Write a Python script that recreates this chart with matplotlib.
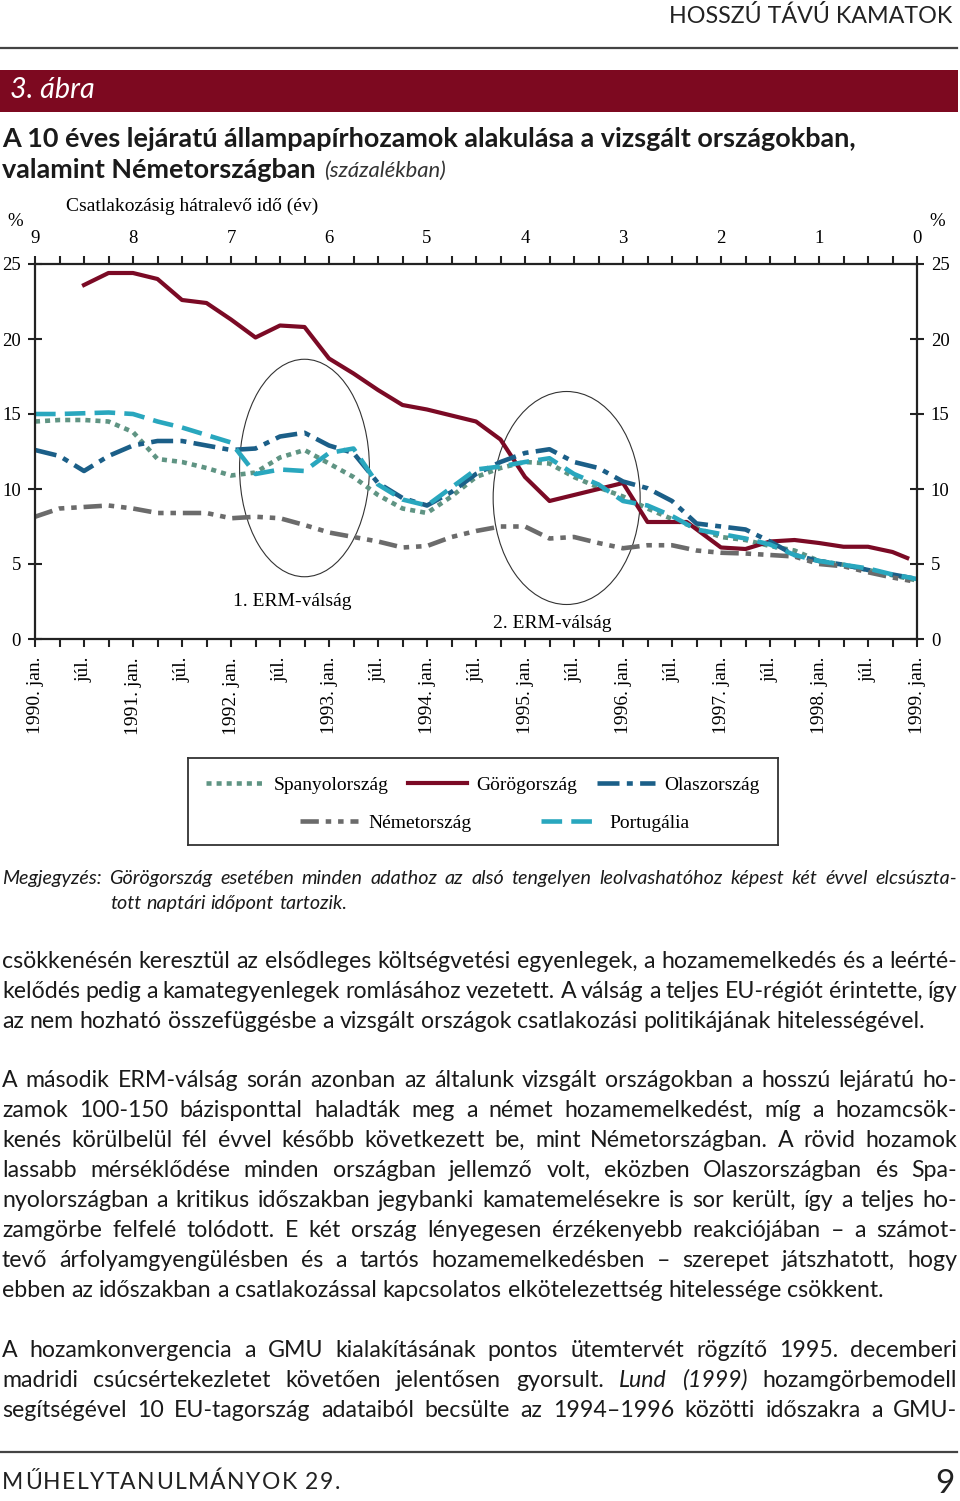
import matplotlib
matplotlib.use("Agg")
from matplotlib import pyplot as plt
from matplotlib.lines import Line2D
from matplotlib.patches import Ellipse, Rectangle

W, H = 960, 1501
SANS = "Lato"
SERIF = "Liberation Serif"
plt.rcParams["font.family"] = [SERIF, "DejaVu Serif"]

# negyedéves adatok, 0 = 1990. jan., 36 = 1999. jan.
quarters = list(range(37))
spain = [14.5, 14.6, 14.6, 14.5, 13.8, 12.0, 11.8, 11.4, 10.9, 11.1, 12.1, 12.6, 11.7,
         10.8, 9.6, 8.7, 8.4, 9.5, 10.8, 11.4, 11.8, 11.7, 10.8, 10.1, 9.5, 8.7, 8.0,
         7.4, 6.8, 6.6, 6.2, 5.9, 5.2, 4.95, 4.6, 4.25, 3.9]
portugal = [15.0, 15.0, 15.05, 15.1, 15.0, 14.5, 14.1, 13.6, 13.1, 11.0, 11.3, 11.2, 12.4,
            12.7, 10.3, 9.3, 8.9, 10.1, 11.3, 11.5, 11.8, 12.05, 11.0, 10.3, 9.2, 8.9, 8.2,
            7.3, 7.0, 6.7, 6.3, 5.6, 5.2, 4.95, 4.7, 4.3, 4.0]
italy = [12.6, 12.2, 11.2, 12.2, 12.9, 13.2, 13.2, 12.9, 12.6, 12.7, 13.5, 13.75, 12.9,
         12.4, 10.4, 9.4, 8.9, 9.8, 11.0, 11.8, 12.4, 12.65, 11.8, 11.4, 10.5, 10.05, 9.2,
         7.7, 7.5, 7.3, 6.5, 5.6, 5.2, 4.95, 4.6, 4.3, 4.0]
germany = [8.15, 8.7, 8.8, 8.9, 8.7, 8.4, 8.4, 8.4, 8.05, 8.15, 8.05, 7.6, 7.1, 6.8, 6.5,
           6.1, 6.2, 6.8, 7.2, 7.5, 7.5, 6.7, 6.8, 6.4, 6.05, 6.25, 6.25, 5.9, 5.75, 5.7,
           5.6, 5.5, 5.0, 4.85, 4.45, 4.1, 3.8]
greece_q = [2, 3, 4, 5, 6, 7, 8, 9, 10, 11, 12, 13, 14, 15, 16, 17, 18, 19, 20, 21, 22,
            23, 24, 25, 26, 26.6, 28, 29, 30, 31, 32, 33, 34, 35, 35.6]
greece = [23.6, 24.4, 24.4, 24.0, 22.6, 22.4, 21.3, 20.1, 20.9, 20.8, 18.7, 17.7, 16.6,
          15.6, 15.3, 14.9, 14.5, 13.3, 10.8, 9.2, 9.6, 10.0, 10.4, 7.8, 7.8, 7.8, 6.1,
          6.0, 6.5, 6.6, 6.4, 6.15, 6.15, 5.8, 5.4]

years_to_join = ["9", "8", "7", "6", "5", "4", "3", "2", "1", "0"]
half_year_labels = []
for yr in range(1990, 1999):
    half_year_labels += [f"{yr}. jan.", "júl."]
half_year_labels.append("1999. jan.")

styles = {
    "Spanyolország": dict(color="#5f9483", ls=(0, (1.1, 1.1))),
    "Görögország": dict(color="#7b0a25", ls="-"),
    "Olaszország": dict(color="#1b5f88", ls=(0, (4.8, 1.6, 1.3, 1.6))),
    "Németország": dict(color="#6b6b6b", ls=(0, (4.0, 1.5, 1.2, 1.5, 1.2, 1.5))),
    "Portugália": dict(color="#29a7be", ls=(0, (4.5, 2.0))),
}
LW = 3.3

fig = plt.figure(figsize=(W / 100, H / 100), dpi=100)
renderer = fig.canvas.get_renderer()


def fy(py):
    return 1 - py / H


def measure(s, size, style="normal", weight="normal", family=SANS):
    t = fig.text(0, 0, s, fontsize=size, fontstyle=style, fontweight=weight, family=family)
    w = t.get_window_extent(renderer).width
    t.remove()
    return w


def fit(s, target, style="normal", weight="normal"):
    # betűméret, amelynél a sor szélessége a mintáéval egyezik
    return 14 * target / measure(s, 14, style, weight)


def put_line(y, segs, x0, x1, size, justify=True):
    words = [(w, st) for s, st in segs for w in s.split()]
    widths = [measure(w, size, st) for w, st in words]
    gap = measure("a a", size) - measure("aa", size)
    if justify and len(words) > 1:
        gap = (x1 - x0 - sum(widths)) / (len(words) - 1)
    x = x0
    for (w, st), wd in zip(words, widths):
        fig.text(x / W, fy(y), w, fontsize=size, fontstyle=st, family=SANS,
                 va="baseline", ha="left", color="#1a1a1a")
        x += wd + gap


def hrule(y):
    fig.add_artist(Line2D([0, 957 / W], [fy(y), fy(y)], transform=fig.transFigure,
                          color="#444444", lw=1.6))


# fejléc
head = "HOSSZÚ TÁVÚ KAMATOK"
fig.text(952 / W, fy(16), head, ha="right", va="center",
         fontsize=fit(head, 284), family=SANS, color="#222222")
hrule(48)
fig.add_artist(Rectangle((0, fy(112)), 958 / W, 42 / H, transform=fig.transFigure,
                         color="#7d0920", lw=0))
fig.text(10 / W, fy(90), "3. ábra", color="white", fontsize=fit("3. ábra", 85, "italic"),
         fontstyle="italic", family=SANS, va="center")
title1 = "A 10 éves lejáratú állampapírhozamok alakulása a vizsgált országokban,"
title2 = "valamint Németországban"
tsize = fit(title1, 863, weight="bold")
fig.text(2 / W, fy(139), title1, fontsize=tsize, fontweight="bold", family=SANS,
         va="center", color="#1a1a1a")
fig.text(2 / W, fy(170), title2, fontsize=tsize, fontweight="bold",
         family=SANS, va="center", color="#1a1a1a")
x_sub = 2 + measure(title2, tsize, weight="bold") + 8
fig.text(x_sub / W, fy(171), "(százalékban)", fontsize=fit("(százalékban)", 122, "italic"),
         fontstyle="italic", family=SANS, va="center", color="#333333")

# diagram
ax = fig.add_axes([35 / W, fy(639), (917 - 35) / W, 375 / H])
ax.set_xlim(0, 36)
ax.set_ylim(0, 25)

ax.plot(quarters, spain, lw=LW, dash_capstyle="butt", **styles["Spanyolország"])
ax.plot(greece_q, greece, lw=3.0, **styles["Görögország"])
ax.plot(quarters, italy, lw=LW, dash_capstyle="butt", **styles["Olaszország"])
ax.plot(quarters, germany, lw=LW, dash_capstyle="butt", **styles["Németország"])
ax.plot(quarters, portugal, lw=LW, dash_capstyle="butt", **styles["Portugália"])

ax.add_patch(Ellipse((11.0, 11.4), 5.3, 14.5, fill=False, lw=0.8, ec="#333333"))
ax.add_patch(Ellipse((21.7, 9.4), 6.0, 14.2, fill=False, lw=0.8, ec="#333333"))
ax.text(10.5, 2.5, "1. ERM-válság", ha="center", va="center", fontsize=14)
ax.text(21.1, 1.05, "2. ERM-válság", ha="center", va="center", fontsize=14)

for s in ax.spines.values():
    s.set_linewidth(1.6)
    s.set_color("#222222")

ax.set_yticks(range(0, 26, 5))
ax.tick_params(axis="y", direction="inout", length=10, width=1.5, left=True, right=True,
               labelleft=True, labelright=True, labelsize=13.5, pad=5, color="#222222")
ax.set_xticks(range(0, 37, 2))
ax.set_xticklabels(half_year_labels, rotation=90, va="top", ha="center")
ax.set_xticks(range(37), minor=True)
ax.tick_params(axis="x", which="both", direction="out", length=6, width=1.5,
               labelsize=14, pad=7, color="#222222")

ax_top = ax.twiny()
ax_top.set_xlim(0, 36)
ax_top.set_xticks(range(0, 37, 4))
ax_top.set_xticklabels(years_to_join)
ax_top.set_xticks(range(37), minor=True)
ax_top.tick_params(axis="x", which="both", direction="out", length=6, width=1.5,
                   labelsize=13.5, pad=6, color="#222222")
for s in ax_top.spines.values():
    s.set_visible(False)

fig.text(15 / W, fy(222), "%", ha="center", va="center", fontsize=13.5)
fig.text(937 / W, fy(222), "%", ha="center", va="center", fontsize=13.5)
fig.text(66 / W, fy(206), "Csatlakozásig hátralevő idő (év)", ha="left", va="center",
         fontsize=14)

# jelmagyarázat
lax = fig.add_axes([188 / W, fy(845), 590 / W, 87 / H])
lax.set_xticks([])
lax.set_yticks([])
for s in lax.spines.values():
    s.set_linewidth(1.3)
    s.set_color("#333333")


def handle(name):
    lw = 3.0 if name == "Görögország" else LW
    return Line2D([], [], lw=lw, dash_capstyle="butt", **styles[name])


row1 = ["Spanyolország", "Görögország", "Olaszország"]
row2 = ["Németország", "Portugália"]
leg1 = lax.legend([handle(n) for n in row1], row1, ncol=3, loc="center",
                  bbox_to_anchor=(0.5, 0.69), frameon=False, fontsize=14,
                  handlelength=3.0, columnspacing=1.0, handletextpad=0.5)
lax.add_artist(leg1)
lax.legend([handle(n) for n in row2], row2, ncol=2, loc="center",
           bbox_to_anchor=(0.52, 0.25), frameon=False, fontsize=14,
           handlelength=3.0, columnspacing=3.6, handletextpad=0.5)

# megjegyzés
note2 = "tott naptári időpont tartozik."
nsize = fit(note2, 237, "italic")
put_line(884, [("Megjegyzés: Görögország esetében minden adathoz az alsó tengelyen "
                "leolvashatóhoz képest két évvel elcsúszta-", "italic")], 2, 957, nsize)
put_line(909, [(note2, "italic")], 110, 957, nsize, justify=False)

# szöveg
body = [
    (968, [("csökkenésén keresztül az elsődleges költségvetési egyenlegek, a hozamemelkedés és a leérté-", "normal")], True),
    (998, [("kelődés pedig a kamategyenlegek romlásához vezetett. A válság a teljes EU-régiót érintette, így", "normal")], True),
    (1028, [("az nem hozható összefüggésbe a vizsgált országok csatlakozási politikájának hitelességével.", "normal")], False),
    (1087, [("A második ERM-válság során azonban az általunk vizsgált országokban a hosszú lejáratú ho-", "normal")], True),
    (1117, [("zamok 100-150 bázisponttal haladták meg a német hozamemelkedést, míg a hozamcsök-", "normal")], True),
    (1147, [("kenés körülbelül fél évvel később következett be, mint Németországban. A rövid hozamok", "normal")], True),
    (1177, [("lassabb mérséklődése minden országban jellemző volt, eközben Olaszországban és Spa-", "normal")], True),
    (1207, [("nyolországban a kritikus időszakban jegybanki kamatemelésekre is sor került, így a teljes ho-", "normal")], True),
    (1237, [("zamgörbe felfelé tolódott. E két ország lényegesen érzékenyebb reakciójában – a számot-", "normal")], True),
    (1267, [("tevő árfolyamgyengülésben és a tartós hozamemelkedésben – szerepet játszhatott, hogy", "normal")], True),
    (1297, [("ebben az időszakban a csatlakozással kapcsolatos elkötelezettség hitelessége csökkent.", "normal")], False),
    (1357, [("A hozamkonvergencia a GMU kialakításának pontos ütemtervét rögzítő 1995. decemberi", "normal")], True),
    (1387, [("madridi csúcsértekezletet követően jelentősen gyorsult.", "normal"),
            ("Lund (1999)", "italic"), ("hozamgörbemodell", "normal")], True),
    (1417, [("segítségével 10 EU-tagország adataiból becsülte az 1994–1996 közötti időszakra a GMU-", "normal")], True),
]
bsize = fit(body[2][1][0][0], 928)
for y, segs, just in body:
    put_line(y, segs, 2, 957, bsize, justify=just)

# lábléc
hrule(1452)
footer = "MŰHELYTANULMÁNYOK 29."
fsize = 16.5
cw = [measure(c, fsize) if c != " " else measure("a a", fsize) - measure("aa", fsize)
      for c in footer]
track = (338 - sum(cw)) / (len(footer) - 1)
x = 2
for c, wd in zip(footer, cw):
    fig.text(x / W, fy(1489), c, fontsize=fsize, family=SANS, va="baseline", color="#222222")
    x += wd + track
fig.text(955 / W, fy(1493), "9", fontsize=24, family=SANS, ha="right", va="baseline",
         color="#222222")

fig.savefig("out.png", dpi=100)
